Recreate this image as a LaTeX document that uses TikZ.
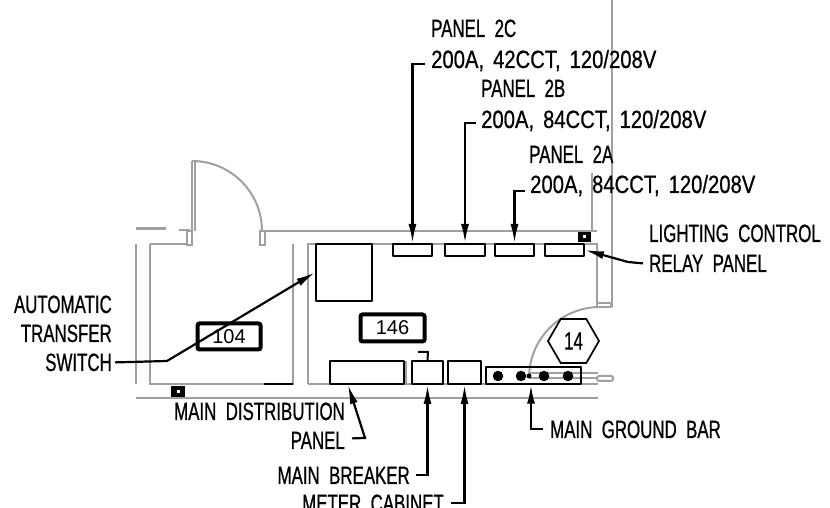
\documentclass[tikz,border=0pt]{standalone}
\usepackage{fontspec}
\usepackage{xcolor}
\usetikzlibrary{calc,arrows.meta,shapes.geometric}
\newfontfamily\cadfont[FakeStretch=0.675,FakeBold=0.7,WordSpace=2]{Liberation Sans}
\newfontfamily\cadwide[FakeStretch=0.81,FakeBold=0.7,WordSpace=1.6]{Liberation Sans}
\newfontfamily\tagfont{Liberation Sans}
\definecolor{wallgray}{HTML}{A0A0A0}
\definecolor{ink}{HTML}{000000}
\tikzset{
  wall/.style={draw=wallgray, line width=2pt},
  pnl/.style={draw=ink, line width=2pt, inner sep=0pt, line join=round},
  lead/.style={draw=ink, line width=2.2pt, -{Latex[length=19pt,width=8pt]}},
  lab/.style={text=ink, inner sep=0pt, font=\cadfont\fontsize{25}{25}\selectfont},
  volt/.style={lab, font=\cadwide\fontsize{25}{25}\selectfont},
  tag/.style={draw=ink, line width=4pt, rounded corners=2pt, inner sep=0pt, text=ink, font=\tagfont\fontsize{20}{20}\selectfont},
  jbox/.style={fill=ink, inner sep=0pt},
  jdot/.style={fill=white, inner sep=0pt, minimum size=3pt},
  stud/.style={circle, fill=ink, inner sep=0pt, minimum size=10.5pt},
}
\begin{document}
\begin{tikzpicture}[x=1pt,y=1pt]
  \path[use as bounding box,clip] (0,0) rectangle (830,508);

  % walls
  \draw[wall] (191.5,347) -- (191.5,277) (194.5,347) -- (194.5,277);
  \draw[wall] (192,347) arc[start angle=90,end angle=0,radius=70];
  \draw[wall,line width=3pt] (136,279) -- (166,279);
  \draw[wall] (179,278) -- (190,278);
  \draw[wall] (187,277) rectangle (192,263);
  \draw[wall] (260,277) rectangle (265,263);
  \draw[wall] (262,277) -- (597,277);
  \draw[wall] (136,264) -- (136,124);
  \draw[wall] (150,264) -- (187,264) (150,264) -- (150,124) -- (293,124) -- (293,264);
  \draw[wall] (136,110) -- (598,110);
  \draw[wall] (308,124) -- (308,264) -- (597,264) -- (597,201);
  \draw[wall] (308,124) -- (598,124);
  \draw[wall] (612,508) -- (612,201);
  \draw[wall] (592,335) -- (592,277);
  \draw[wall] (597,201) rectangle (611,205);
  \draw[wall] (600,201) arc[start angle=90,end angle=180,radius=71];
  \draw[wall] (529,135) -- (598,135) (529,130) -- (597,130);
  \draw[wall,rounded corners=2pt] (597,127) rectangle (613,132);
  \draw[wall] (406,147) -- (406,124);
  \draw[pnl] (264,124) -- (293,124);

  % equipment
  \node[pnl,draw,minimum width=39pt,minimum height=12pt] (pnl2C) at (412.5,258) {};
  \node[pnl,draw,minimum width=40pt,minimum height=12pt] (pnl2B) at (465,258) {};
  \node[pnl,draw,minimum width=39pt,minimum height=12pt] (pnl2A) at (514.5,258) {};
  \node[pnl,draw,minimum width=39pt,minimum height=12pt] (pnlLC) at (564.5,258) {};
  \node[pnl,draw,minimum width=56pt,minimum height=57pt] (ats) at (344,235.5) {};
  \node[pnl,draw,minimum width=74pt,minimum height=23pt] (mdp) at (367,135.5) {};
  \node[pnl,draw,minimum width=31pt,minimum height=23pt] (mbrk) at (427.5,135.5) {};
  \node[pnl,draw,minimum width=33pt,minimum height=23pt] (meter) at (464.5,135.5) {};
  \node[pnl,draw,line width=1.5pt,minimum width=95pt,minimum height=17pt] (gbar) at (533.5,132.5) {};
  \draw[pnl] (418,156) -- (428,156) -- (mbrk.north);

  \foreach \name/\x in {a/498,b/521,c/544,d/568}
    \node[stud] (stud\name) at (\x,132) {};
  \node[stud,minimum size=5pt] (studx) at (529,132) {};

  \node[jbox,minimum width=13pt,minimum height=10pt] (boxA) at (584.5,271) {};
  \node[jdot] at (boxA) {};
  \node[jbox,minimum width=14pt,minimum height=11pt] (boxB) at (178,116.5) {};
  \node[jdot] at (boxB) {};

  \node[tag,minimum width=63pt,minimum height=26pt] (tag104) at (229,171.5) {104};
  \node[tag,minimum width=64pt,minimum height=27pt] (tag146) at (392.5,180) {146};
  \node[regular polygon,regular polygon sides=6,draw=ink,line width=1.7pt,
    inner sep=0pt,minimum size=51pt,lab] (hex14) at (573.5,167) {14};

  % labels
  \node[lab,anchor=base west] (lab2C) at (431,471) {PANEL 2C};
  \node[volt,anchor=base west] (volt2C) at (431,440) {200A, 42CCT, 120/208V};
  \node[lab,anchor=base west] (lab2B) at (481,411) {PANEL 2B};
  \node[volt,anchor=base west] (volt2B) at (481,380) {200A, 84CCT, 120/208V};
  \node[lab,anchor=base west] (lab2A) at (529,345) {PANEL 2A};
  \node[volt,anchor=base west] (volt2A) at (530,315) {200A, 84CCT, 120/208V};
  \node[lab,anchor=base west] (labLight) at (649,266) {LIGHTING CONTROL};
  \node[lab,anchor=base west] (labRelay) at (649,236) {RELAY PANEL};
  \node[lab,anchor=base east] (labAuto) at (112,195) {AUTOMATIC};
  \node[lab,anchor=base east] (labTrans) at (112,166) {TRANSFER};
  \node[lab,anchor=base east] (labSwitch) at (112,137) {SWITCH};
  \node[lab,anchor=base east] (labMain) at (345,88) {MAIN DISTRIBUTION};
  \node[lab,anchor=base east] (labPanel) at (345,59) {PANEL};
  \node[lab,anchor=base east] (labBrk) at (410,24) {MAIN BREAKER};
  \node[lab,anchor=base east] (labMeter) at (444,-4) {METER CABINET};
  \node[lab,anchor=base west] (labBar) at (550,70) {MAIN GROUND BAR};

  % leaders
  \coordinate (atsBend) at (167,147);
  \coordinate (lcBend) at (628,246);
  \coordinate (mdpBend) at (365,70);
  \draw[lead] ([shift={(-6,4)}]volt2C.base west) -| (pnl2C.north);
  \draw[lead] ([shift={(-5,5)}]volt2B.base west) -| (pnl2B.north);
  \draw[lead] ([shift={(-5,2)}]volt2A.base west) -| (pnl2A.north);
  \draw[lead] ([xshift=-6]labRelay.west) -- (lcBend) -- (pnlLC.east);
  \draw[lead] ([xshift=3]labSwitch.east) -- (atsBend) -- (ats.west);
  \draw[lead] ([shift={(7,2)}]labPanel.east) -- (mdpBend) -- ([xshift=-19]mdp.south);
  \draw[lead] ([xshift=6]labBrk.east) -| (mbrk.south);
  \draw[lead] ([xshift=7]labMeter.east) -| (meter.south);
  \draw[lead] ([xshift=-7]labBar.west) -| ([xshift=-2.5]gbar.south);
\end{tikzpicture}
\end{document}
